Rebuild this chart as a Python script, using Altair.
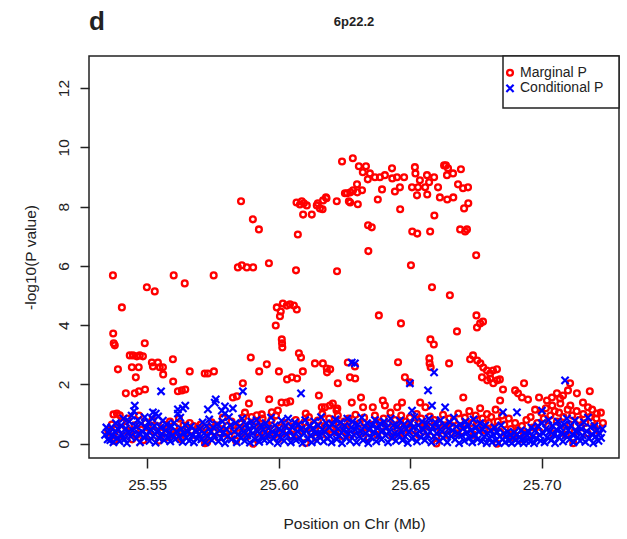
import altair as alt
import pandas as pd

# ---------------- data ----------------
# Marginal P: SNPs standing out above the dense band
marg_peak_pos = [
    25.5370, 25.5371, 25.5373, 25.5377, 25.5404, 25.5499, 25.5529, 25.5601, 25.5643, 25.5753,
    25.5491, 25.5434, 25.5446, 25.5461, 25.5472, 25.5484, 25.5442, 25.5389, 25.5468, 25.5457,
    25.5518, 25.5541, 25.5522, 25.5548, 25.5560, 25.5561, 25.5598, 25.5599, 25.5662, 25.5719,
    25.5731, 25.5754, 25.5617, 25.5632, 25.5645, 25.5419, 25.5453, 25.5469, 25.5492, 25.5385,
    25.5372, 25.5396, 25.5857, 25.5902, 25.5925, 25.5845, 25.5860, 25.5879, 25.5903, 25.5963,
    25.6073, 25.6066, 25.6222, 25.5993, 25.6016, 25.6031, 25.6043, 25.6058, 25.6069, 25.6008,
    25.6005, 25.5989, 25.6012, 25.5894, 25.5926, 25.5955, 25.6001, 25.6013, 25.6014, 25.6077,
    25.6085, 25.6050, 25.6032, 25.6070, 25.6092, 25.6138, 25.6168, 25.6183, 25.6184, 25.6225,
    25.6263, 25.6271, 25.5864, 25.5826, 25.5841, 25.5887, 25.5964, 25.6153, 25.6011, 25.6030,
    25.6044, 25.5997, 25.6103, 25.6164, 25.6176, 25.6195, 25.6223, 25.5917, 25.5936, 25.5974,
    25.5865, 25.6068, 25.6081, 25.6096, 25.6107, 25.6088, 25.6093, 25.6126, 25.6167, 25.6145,
    25.6169, 25.6182, 25.6149, 25.6157, 25.6180, 25.6221, 25.6241, 25.6282, 25.6260, 25.6272,
    25.6305, 25.6332, 25.6320, 25.6347, 25.6339, 25.6366, 25.6385, 25.6404, 25.6431, 25.6432,
    25.6450, 25.6477, 25.6518, 25.6520, 25.6537, 25.6564, 25.6572, 25.6591, 25.6629, 25.6636,
    25.6644, 25.6640, 25.6663, 25.6693, 25.6298, 25.6252, 25.6273, 25.6283, 25.6299, 25.6317,
    25.6267, 25.6301, 25.6377, 25.6393, 25.6442, 25.6461, 25.6507, 25.6530, 25.6557, 25.6526,
    25.6565, 25.6606, 25.6613, 25.6641, 25.6664, 25.6682, 25.6701, 25.6720, 25.6721, 25.6705,
    25.6462, 25.6592, 25.6340, 25.6354, 25.6508, 25.6527, 25.6576, 25.6690, 25.6709, 25.6716,
    25.6341, 25.6503, 25.6751, 25.6583, 25.6651, 25.6381, 25.6465, 25.6752, 25.6777, 25.6766,
    25.6754, 25.6577, 25.6590, 25.6678, 25.6454, 25.6573, 25.6574, 25.6578, 25.6648, 25.6290,
    25.6291, 25.6196, 25.6480, 25.6499, 25.6739, 25.6728, 25.6755, 25.6767, 25.6778, 25.6792,
    25.6804, 25.6815, 25.6830, 25.6773, 25.6793, 25.6805, 25.6816, 25.6831, 25.6841, 25.6853,
    25.6899, 25.6910, 25.6925, 25.6948, 25.6933, 25.6702, 25.6842, 25.6313, 25.6990, 25.7020,
    25.7039, 25.7058, 25.7070, 25.7081, 25.7100, 25.7108, 25.7134, 25.7183, 25.7040, 25.7071,
    25.7109, 25.7157, 25.7176, 25.7210, 25.6206, 25.6220, 25.6321, 25.6358, 25.6396, 25.6404,
    25.6451, 25.6469, 25.6538, 25.6558, 25.6278,
]
marg_peak_logp = [
    5.68, 3.72, 3.39, 3.32, 4.60, 5.28, 5.14, 5.68, 5.41, 5.68,
    3.39, 2.98, 2.98, 2.95, 2.98, 2.95, 2.58, 2.51, 2.58, 2.24,
    2.74, 2.74, 2.61, 2.58, 2.58, 2.34, 2.85, 2.10, 2.44, 2.37,
    2.37, 2.44, 1.77, 1.80, 1.83, 1.70, 1.70, 1.77, 1.83, 1.02,
    0.99, 0.96, 8.18, 7.57, 7.23, 5.95, 6.02, 5.95, 5.95, 6.09,
    7.06, 5.85, 5.82, 4.60, 4.73, 4.66, 4.70, 4.66, 4.53, 4.46,
    4.30, 3.99, 3.52, 2.91, 2.44, 2.68, 2.44, 3.39, 3.25, 3.05,
    2.91, 2.24, 2.17, 2.20, 2.44, 2.71, 2.71, 2.54, 2.41, 2.04,
    2.74, 2.24, 2.04, 1.56, 1.60, 1.36, 1.50, 1.63, 1.39, 1.39,
    1.43, 1.12, 1.02, 1.23, 1.23, 1.29, 1.19, 0.96, 0.99, 1.06,
    0.89, 8.14, 8.07, 8.11, 8.04, 8.18, 7.73, 7.73, 7.91, 8.04,
    8.21, 8.28, 8.11, 7.94, 8.31, 8.18, 9.52, 9.63, 8.45, 8.14,
    9.36, 9.36, 9.16, 9.12, 8.92, 8.99, 8.99, 9.06, 9.29, 8.95,
    8.99, 8.99, 9.33, 9.12, 8.89, 9.06, 8.82, 8.99, 9.39, 9.39,
    9.29, 9.06, 9.12, 9.26, 8.75, 8.45, 8.48, 8.55, 8.48, 8.55,
    8.18, 8.08, 8.24, 8.58, 8.51, 8.65, 8.65, 8.65, 8.65, 8.38,
    8.41, 8.65, 8.31, 8.24, 8.31, 8.75, 8.62, 8.65, 8.11, 7.94,
    7.91, 7.70, 7.37, 7.30, 7.16, 7.09, 7.16, 7.23, 7.16, 7.23,
    6.50, 6.02, 6.36, 5.28, 5.01, 4.33, 4.06, 4.33, 4.12, 4.06,
    3.92, 3.52, 3.35, 3.79, 2.75, 2.88, 2.71, 2.58, 2.71, 2.61,
    2.20, 2.51, 2.24, 2.07, 2.98, 2.85, 2.81, 2.71, 2.57, 2.47,
    2.37, 2.47, 2.51, 2.24, 2.14, 2.20, 2.04, 2.14, 2.17, 1.83,
    1.80, 1.70, 1.56, 1.49, 2.04, 1.56, 1.46, 1.56, 1.56, 1.46,
    1.56, 1.70, 1.53, 1.63, 1.80, 2.04, 1.70, 1.77, 1.29, 1.36,
    1.29, 1.39, 1.23, 1.02, 1.36, 1.12, 1.23, 1.23, 1.46, 1.29,
    1.23, 1.39, 1.39, 1.23, 1.39,
]

# Marginal P: SNPs inside the dense low band
marg_bulk_pos = [
    25.5352, 25.5358, 25.5366, 25.5375, 25.5383, 25.5393, 25.5403, 25.5411, 25.5418, 25.5426,
    25.5434, 25.5443, 25.5452, 25.5460, 25.5469, 25.5477, 25.5486, 25.5494, 25.5503, 25.5511,
    25.5520, 25.5528, 25.5537, 25.5545, 25.5553, 25.5562, 25.5570, 25.5578, 25.5587, 25.5595,
    25.5604, 25.5613, 25.5621, 25.5629, 25.5638, 25.5646, 25.5654, 25.5662, 25.5669, 25.5677,
    25.5685, 25.5693, 25.5703, 25.5711, 25.5720, 25.5728, 25.5737, 25.5745, 25.5754, 25.5762,
    25.5771, 25.5779, 25.5788, 25.5796, 25.5804, 25.5813, 25.5821, 25.5830, 25.5838, 25.5847,
    25.5855, 25.5863, 25.5872, 25.5880, 25.5889, 25.5897, 25.5905, 25.5914, 25.5922, 25.5931,
    25.5939, 25.5948, 25.5956, 25.5965, 25.5973, 25.5982, 25.5990, 25.5998, 25.6006, 25.6014,
    25.6023, 25.6031, 25.6040, 25.6048, 25.6056, 25.6065, 25.6073, 25.6082, 25.6090, 25.6098,
    25.6107, 25.6115, 25.6124, 25.6132, 25.6141, 25.6149, 25.6158, 25.6166, 25.6175, 25.6183,
    25.6192, 25.6199, 25.6208, 25.6216, 25.6225, 25.6233, 25.6242, 25.6249, 25.6258, 25.6266,
    25.6275, 25.6283, 25.6292, 25.6299, 25.6308, 25.6316, 25.6325, 25.6333, 25.6342, 25.6349,
    25.6358, 25.6366, 25.6375, 25.6383, 25.6392, 25.6399, 25.6408, 25.6416, 25.6425, 25.6433,
    25.6442, 25.6449, 25.6458, 25.6466, 25.6475, 25.6483, 25.6492, 25.6499, 25.6508, 25.6516,
    25.6525, 25.6533, 25.6542, 25.6549, 25.6558, 25.6566, 25.6575, 25.6583, 25.6592, 25.6599,
    25.6608, 25.6616, 25.6625, 25.6633, 25.6642, 25.6649, 25.6658, 25.6666, 25.6675, 25.6683,
    25.6692, 25.6699, 25.6708, 25.6716, 25.6725, 25.6733, 25.6742, 25.6749, 25.6758, 25.6766,
    25.6775, 25.6783, 25.6792, 25.6799, 25.6808, 25.6816, 25.6825, 25.6833, 25.6842, 25.6849,
    25.6858, 25.6866, 25.6875, 25.6883, 25.6892, 25.6899, 25.6908, 25.6916, 25.6925, 25.6933,
    25.6942, 25.6949, 25.6958, 25.6966, 25.6975, 25.6983, 25.6992, 25.6999, 25.7008, 25.7016,
    25.7025, 25.7033, 25.7042, 25.7049, 25.7058, 25.7066, 25.7075, 25.7083, 25.7092, 25.7099,
    25.7108, 25.7116, 25.7125, 25.7133, 25.7142, 25.7149, 25.7158, 25.7166, 25.7175, 25.7183,
    25.7192, 25.7199, 25.7208, 25.7216, 25.7225, 25.7233, 25.5903, 25.6103, 25.6600, 25.6830,
    25.7120, 25.5720,
]
marg_bulk_logp = [
    0.45, 0.20, 0.65, 0.10, 0.52, 0.30, 0.72, 0.25, 0.58, 0.85,
    0.40, 0.15, 0.62, 0.30, 0.95, 0.48, 0.12, 0.70, 0.55, 0.25,
    0.80, 0.42, 0.60, 0.10, 0.38, 0.65, 0.20, 0.50, 0.75, 0.30,
    0.58, 0.40, 0.85, 0.15, 0.62, 0.35, 0.52, 0.70, 0.45, 0.60,
    0.28, 0.55, 0.65, 0.30, 0.55, 0.05, 0.45, 0.72, 0.40, 0.62,
    0.20, 0.50, 0.88, 0.35, 0.60, 0.28, 0.75, 0.45, 0.10, 0.55,
    0.68, 0.40, 1.05, 0.25, 0.62, 0.90, 0.45, 0.75, 0.20, 0.58,
    0.85, 0.35, 0.62, 0.30, 0.80, 0.50, 0.95, 0.15, 0.55, 0.35,
    0.70, 0.45, 0.60, 0.25, 0.50, 0.80, 0.30, 0.62, 0.42, 0.72,
    0.55, 0.90, 0.35, 0.65, 0.20, 0.78, 0.45, 1.00, 0.60, 0.30,
    0.85, 0.50, 0.68, 0.40, 0.95, 0.55, 0.25, 0.75, 0.50, 0.85,
    0.30, 0.62, 0.98, 0.42, 0.70, 0.35, 0.88, 0.55, 0.20, 0.65,
    0.48, 0.95, 0.30, 0.72, 0.58, 0.85, 0.40, 0.68, 1.05, 0.25,
    0.80, 0.52, 0.62, 0.95, 0.35, 0.75, 0.50, 0.88, 0.45, 0.70,
    1.00, 0.30, 0.85, 0.55, 0.65, 0.40, 0.92, 0.58, 0.80, 0.22,
    0.70, 0.45, 0.98, 0.62, 0.30, 0.85, 0.55, 0.78, 0.35, 1.02,
    0.60, 0.42, 0.88, 0.50, 1.10, 0.70, 0.30, 0.95, 0.62, 1.20,
    0.85, 0.45, 1.00, 0.70, 0.90, 0.55, 1.15, 0.75, 0.40, 0.95,
    0.65, 0.30, 0.85, 0.50, 0.20, 0.70, 0.45, 0.15, 0.60, 0.35,
    0.80, 0.25, 0.90, 0.55, 1.15, 0.70, 0.40, 1.05, 0.85, 1.20,
    0.60, 0.95, 0.35, 1.10, 0.75, 1.05, 0.50, 0.90, 0.30, 1.15,
    0.65, 0.95, 0.40, 1.10, 0.80, 0.55, 1.00, 0.70, 0.35, 0.90,
    1.15, 0.60, 0.85, 0.45, 1.05, 0.70, 0.00, 0.03, 0.01, 0.00,
    0.02, 0.02,
]

# Conditional P: dense low band
cond_bulk_pos = [
    25.5340, 25.5345, 25.5350, 25.5355, 25.5360, 25.5364, 25.5368, 25.5372, 25.5377, 25.5381,
    25.5386, 25.5391, 25.5395, 25.5401, 25.5405, 25.5410, 25.5414, 25.5419, 25.5423, 25.5428,
    25.5432, 25.5437, 25.5441, 25.5446, 25.5450, 25.5455, 25.5459, 25.5464, 25.5468, 25.5473,
    25.5477, 25.5482, 25.5487, 25.5491, 25.5496, 25.5500, 25.5505, 25.5509, 25.5514, 25.5519,
    25.5523, 25.5528, 25.5532, 25.5537, 25.5542, 25.5546, 25.5551, 25.5556, 25.5560, 25.5565,
    25.5570, 25.5574, 25.5579, 25.5584, 25.5588, 25.5593, 25.5598, 25.5602, 25.5607, 25.5612,
    25.5621, 25.5626, 25.5630, 25.5635, 25.5640, 25.5645, 25.5649, 25.5655, 25.5660, 25.5666,
    25.5672, 25.5678, 25.5684, 25.5690, 25.5696, 25.5701, 25.5706, 25.5711, 25.5716, 25.5721,
    25.5726, 25.5731, 25.5736, 25.5741, 25.5746, 25.5751, 25.5756, 25.5766, 25.5771, 25.5776,
    25.5781, 25.5786, 25.5791, 25.5796, 25.5801, 25.5806, 25.5811, 25.5816, 25.5821, 25.5831,
    25.5836, 25.5841, 25.5846, 25.5851, 25.5856, 25.5861, 25.5866, 25.5871, 25.5876, 25.5881,
    25.5886, 25.5891, 25.5896, 25.5901, 25.5906, 25.5911, 25.5916, 25.5921, 25.5926, 25.5931,
    25.5936, 25.5941, 25.5946, 25.5951, 25.5956, 25.5961, 25.5966, 25.5971, 25.5976, 25.5981,
    25.5986, 25.5991, 25.5996, 25.6001, 25.6006, 25.6011, 25.6016, 25.6021, 25.6026, 25.6031,
    25.6036, 25.6041, 25.6046, 25.6051, 25.6056, 25.6061, 25.6066, 25.6071, 25.6076, 25.6081,
    25.6086, 25.6091, 25.6096, 25.6101, 25.6106, 25.6111, 25.6116, 25.6121, 25.6126, 25.6131,
    25.6136, 25.6141, 25.6146, 25.6151, 25.6156, 25.6161, 25.6166, 25.6171, 25.6176, 25.6181,
    25.6186, 25.6191, 25.6196, 25.6201, 25.6206, 25.6211, 25.6216, 25.6221, 25.6226, 25.6231,
    25.6236, 25.6241, 25.6246, 25.6251, 25.6256, 25.6261, 25.6266, 25.6271, 25.6276, 25.6281,
    25.6286, 25.6291, 25.6296, 25.6301, 25.6306, 25.6311, 25.6316, 25.6321, 25.6326, 25.6331,
    25.6336, 25.6341, 25.6346, 25.6351, 25.6356, 25.6361, 25.6366, 25.6371, 25.6376, 25.6381,
    25.6386, 25.6391, 25.6396, 25.6401, 25.6406, 25.6411, 25.6416, 25.6421, 25.6426, 25.6431,
    25.6436, 25.6441, 25.6446, 25.6451, 25.6456, 25.6461, 25.6466, 25.6471, 25.6476, 25.6481,
    25.6486, 25.6491, 25.6496, 25.6501, 25.6506, 25.6511, 25.6516, 25.6521, 25.6526, 25.6531,
    25.6536, 25.6541, 25.6546, 25.6551, 25.6556, 25.6561, 25.6566, 25.6571, 25.6576, 25.6581,
    25.6586, 25.6591, 25.6596, 25.6601, 25.6606, 25.6611, 25.6616, 25.6621, 25.6626, 25.6631,
    25.6636, 25.6641, 25.6646, 25.6651, 25.6656, 25.6661, 25.6666, 25.6671, 25.6676, 25.6681,
    25.6686, 25.6691, 25.6696, 25.6701, 25.6706, 25.6711, 25.6716, 25.6721, 25.6726, 25.6731,
    25.6736, 25.6741, 25.6746, 25.6751, 25.6756, 25.6761, 25.6766, 25.6771, 25.6776, 25.6781,
    25.6786, 25.6791, 25.6796, 25.6801, 25.6806, 25.6811, 25.6816, 25.6821, 25.6826, 25.6831,
    25.6836, 25.6841, 25.6846, 25.6851, 25.6856, 25.6861, 25.6866, 25.6871, 25.6876, 25.6881,
    25.6886, 25.6891, 25.6896, 25.6901, 25.6906, 25.6911, 25.6916, 25.6921, 25.6926, 25.6931,
    25.6936, 25.6941, 25.6946, 25.6951, 25.6956, 25.6961, 25.6966, 25.6971, 25.6976, 25.6981,
    25.6986, 25.6991, 25.6996, 25.7001, 25.7006, 25.7011, 25.7016, 25.7021, 25.7026, 25.7031,
    25.7036, 25.7041, 25.7046, 25.7051, 25.7056, 25.7061, 25.7066, 25.7071, 25.7076, 25.7081,
    25.7086, 25.7091, 25.7096, 25.7101, 25.7106, 25.7111, 25.7116, 25.7121, 25.7126, 25.7131,
    25.7136, 25.7141, 25.7146, 25.7151, 25.7156, 25.7161, 25.7166, 25.7171, 25.7176, 25.7181,
    25.7186, 25.7191, 25.7196, 25.7201, 25.7206, 25.7211, 25.7216, 25.7221, 25.7226, 25.7231,
]
cond_bulk_logp = [
    0.30, 0.55, 0.15, 0.35, 0.12, 0.55, 0.28, 0.05, 0.42, 0.70,
    0.20, 0.48, 0.08, 0.62, 0.30, 0.85, 0.15, 0.52, 0.02, 0.38,
    0.75, 0.25, 0.95, 0.45, 1.10, 0.60, 0.18, 0.80, 0.35, 0.05,
    0.68, 0.40, 0.22, 0.90, 0.55, 0.30, 0.72, 0.10, 0.48, 0.85,
    0.26, 0.60, 0.04, 0.40, 0.92, 0.18, 0.55, 0.33, 0.78, 0.12,
    0.45, 0.65, 0.22, 0.38, 0.08, 0.58, 0.30, 0.70, 0.15, 0.42,
    0.25, 0.88, 0.50, 0.06, 0.35, 0.62, 0.20, 0.40, 0.10, 0.58,
    0.28, 0.05, 0.45, 0.18, 0.32, 0.50, 0.15, 0.72, 0.35, 0.05,
    0.60, 0.25, 0.82, 0.40, 0.12, 0.55, 0.30, 0.65, 0.08, 0.45,
    0.20, 0.75, 0.38, 0.02, 0.50, 0.25, 0.90, 0.62, 0.15, 0.42,
    0.70, 0.05, 0.32, 0.58, 0.20, 0.85, 0.40, 0.10, 0.65, 0.28,
    0.48, 0.04, 0.75, 0.35, 0.55, 0.15, 0.80, 0.42, 0.06, 0.62,
    0.25, 0.48, 0.12, 0.70, 0.30, 0.52, 0.08, 0.88, 0.40, 0.18,
    0.62, 0.35, 0.02, 0.50, 0.22, 0.78, 0.40, 0.10, 0.60, 0.30,
    0.85, 0.45, 0.05, 0.55, 0.25, 0.72, 0.12, 0.42, 0.65, 0.20,
    0.50, 0.02, 0.35, 0.80, 0.45, 0.15, 0.60, 0.28, 0.05, 0.52,
    0.75, 0.35, 0.10, 0.62, 0.30, 0.90, 0.48, 0.08, 0.40, 0.70,
    0.18, 0.55, 0.25, 0.05, 0.65, 0.38, 0.82, 0.15, 0.50, 0.28,
    0.72, 0.02, 0.45, 0.60, 0.20, 0.85, 0.35, 0.10, 0.55, 0.75,
    0.30, 0.48, 0.05, 0.65, 0.25, 0.42, 0.88, 0.12, 0.58, 0.35,
    0.70, 0.02, 0.48, 0.22, 0.62, 0.40, 0.80, 0.08, 0.52, 0.30,
    0.68, 0.15, 0.45, 0.75, 0.28, 0.55, 0.05, 0.40, 0.85, 0.20,
    0.62, 0.35, 0.10, 0.58, 0.30, 0.78, 0.45, 0.12, 0.65, 0.25,
    0.50, 0.03, 0.38, 0.70, 0.18, 0.55, 0.90, 0.32, 0.08, 0.62,
    0.42, 0.22, 0.75, 0.48, 0.12, 0.65, 0.30, 0.85, 0.40, 0.05,
    0.58, 0.25, 0.72, 0.35, 0.55, 0.10, 0.80, 0.42, 0.20, 0.62,
    0.30, 0.05, 0.50, 0.72, 0.25, 0.45, 0.88, 0.15, 0.58, 0.35,
    0.02, 0.65, 0.28, 0.50, 0.10, 0.75, 0.38, 0.60, 0.20, 0.45,
    0.05, 0.82, 0.30, 0.55, 0.15, 0.40, 0.70, 0.08, 0.48, 0.25,
    0.62, 0.02, 0.35, 0.20, 0.45, 0.05, 0.30, 0.55, 0.12, 0.38,
    0.02, 0.25, 0.62, 0.15, 0.35, 0.05, 0.25, 0.40, 0.10, 0.30,
    0.02, 0.20, 0.38, 0.12, 0.30, 0.05, 0.22, 0.45, 0.15, 0.02,
    0.35, 0.10, 0.28, 0.40, 0.08, 0.55, 0.25, 0.02, 0.45, 0.18,
    0.60, 0.30, 0.10, 0.70, 0.35, 0.05, 0.50, 0.22, 0.80, 0.42,
    0.12, 0.60, 0.30, 0.02, 0.48, 0.75, 0.20, 0.55, 0.38, 0.08,
    0.65, 0.28, 0.85, 0.45, 0.15, 0.62, 0.32, 0.05, 0.78, 0.40,
    0.22, 0.58, 0.10, 0.50, 0.28, 0.72, 0.06, 0.42, 0.88, 0.18,
    0.55, 0.32, 0.02, 0.60, 0.25, 0.45, 0.10, 0.35, 0.20, 0.50,
]

# Conditional P: the few SNPs above the band
cond_high_pos = [
    25.6290, 25.6278, 25.6591, 25.6499, 25.6568, 25.7089, 25.6853, 25.6906, 25.7001, 25.6633,
    25.6583, 25.6507, 25.5553, 25.5864, 25.6085, 25.5761, 25.5617, 25.5636, 25.5453, 25.5731,
    25.5784, 25.5826, 25.5796, 25.5522, 25.5533, 25.5617, 25.5645, 25.5757, 25.5796,
]
cond_high_logp = [
    2.71, 2.74, 2.41, 2.04, 1.80, 2.14, 1.06, 1.06, 1.12, 1.23,
    1.29, 1.12, 1.77, 1.77, 1.70, 1.50, 1.16, 1.19, 1.29, 1.16,
    1.12, 1.19, 1.26, 1.06, 1.02, 1.02, 1.29, 1.39, 1.02,
]

x_ticks = [25.55, 25.60, 25.65, 25.70]
y_ticks = [0, 2, 4, 6, 8, 10, 12]
legend_labels = ["Marginal P", "Conditional P"]

# ---------------- chart ----------------
marg = pd.DataFrame({"pos": marg_peak_pos + marg_bulk_pos,
                     "logp": marg_peak_logp + marg_bulk_logp})
cond = pd.DataFrame({"pos": cond_bulk_pos + cond_high_pos,
                     "logp": cond_bulk_logp + cond_high_logp})

FONT = "Liberation Sans"
INK = "#222222"
RED = "#ff0000"
BLUE = "#0000ff"
CROSS = "M-1,-1L1,1M-1,1L1,-1"
CIRC_SIZE, CIRC_SW = 34, 2.3
CROSS_SIZE, CROSS_SW = 52, 2.2

W, H = 530, 402

xscale = alt.Scale(domain=[25.5279, 25.7294], nice=False, zero=False)
yscale = alt.Scale(domain=[-0.48, 13.08], nice=False, zero=False)

xaxis = alt.Axis(values=x_ticks, format=".2f", title="Position on Chr (Mb)",
                 grid=False, domain=False, tickSize=10, tickColor=INK, tickWidth=1.5,
                 labelFont=FONT, labelFontSize=15.5, labelColor=INK, labelPadding=9,
                 titleFont=FONT, titleFontSize=15.5, titleFontWeight="normal",
                 titleColor=INK, titleY=65, titleBaseline="middle")
yaxis = alt.Axis(values=y_ticks, format="d", title="-log10(P value)",
                 grid=False, domain=False, tickSize=9, tickColor=INK, tickWidth=1.5,
                 labelFont=FONT, labelFontSize=15.5, labelColor=INK, labelAngle=270,
                 labelAlign="center", labelBaseline="alphabetic", labelPadding=12,
                 titleFont=FONT, titleFontSize=15.5, titleFontWeight="normal",
                 titleColor=INK, titleAngle=270, titleX=-59, titleY=H / 2,
                 titleAlign="center", titleBaseline="middle")

red_layer = alt.Chart(marg).mark_point(
    shape="circle", filled=False, color=RED, size=CIRC_SIZE, strokeWidth=CIRC_SW, opacity=1
).encode(
    x=alt.X("pos:Q", scale=xscale, axis=xaxis),
    y=alt.Y("logp:Q", scale=yscale, axis=yaxis),
)

blue_layer = alt.Chart(cond).mark_point(
    shape=CROSS, filled=False, color=BLUE, size=CROSS_SIZE, strokeWidth=CROSS_SW, opacity=1
).encode(
    x=alt.X("pos:Q", scale=xscale),
    y=alt.Y("logp:Q", scale=yscale),
)

one = pd.DataFrame({"k": [0]})

legend_box = alt.Chart(one).mark_rect(
    fill="white", stroke=INK, strokeWidth=1.5
).encode(x=alt.value(414), x2=alt.value(W), y=alt.value(0), y2=alt.value(52))

leg_circle = alt.Chart(one).mark_point(
    shape="circle", filled=False, color=RED, size=CIRC_SIZE, strokeWidth=CIRC_SW, opacity=1
).encode(x=alt.value(421), y=alt.value(16.7))

leg_cross = alt.Chart(one).mark_point(
    shape=CROSS, filled=False, color=BLUE, size=CROSS_SIZE, strokeWidth=CROSS_SW, opacity=1
).encode(x=alt.value(421), y=alt.value(32.3))

leg_text1 = alt.Chart(one).mark_text(
    text=legend_labels[0], font=FONT, fontSize=14, color=INK, align="left", baseline="middle"
).encode(x=alt.value(431), y=alt.value(16.7))

leg_text2 = alt.Chart(one).mark_text(
    text=legend_labels[1], font=FONT, fontSize=14, color=INK, align="left", baseline="middle"
).encode(x=alt.value(431), y=alt.value(32.3))

panel_label = alt.Chart(one).mark_text(
    text="d", font=FONT, fontSize=26, fontWeight="bold", color=INK,
    align="left", baseline="alphabetic"
).encode(x=alt.value(0), y=alt.value(-26))

region_title = alt.Chart(one).mark_text(
    text="6p22.2", font=FONT, fontSize=13, fontWeight="bold", color=INK,
    align="center", baseline="middle"
).encode(x=alt.value(W / 2), y=alt.value(-34))

chart = alt.layer(
    red_layer, blue_layer, legend_box, leg_circle, leg_cross, leg_text1, leg_text2,
    panel_label, region_title
).properties(
    width=W, height=H,
    autosize=alt.AutoSizeParams(type="none"),
    padding={"left": 89, "top": 56, "right": 8, "bottom": 81},
    background="white",
).configure_view(
    stroke=INK, strokeWidth=1.5
)

chart.save("out.html", embed_options={"renderer": "svg", "actions": False})
